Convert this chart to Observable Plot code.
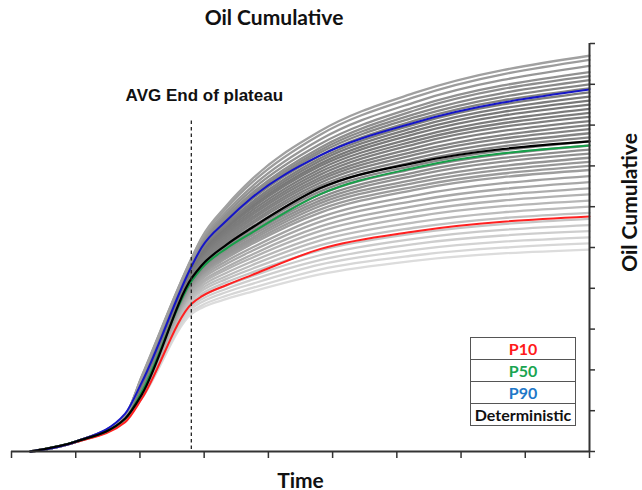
<!DOCTYPE html>
<html><head><meta charset="utf-8">
<script src="https://cdn.jsdelivr.net/npm/d3@7"></script>
<script src="https://cdn.jsdelivr.net/npm/@observablehq/plot@0.6"></script>
<style>
body{margin:0;background:#fff;}
#wrap{position:relative;width:642px;height:490px;font-family:Lato,"Open Sans",sans-serif;color:#111;}
#title{position:relative;height:34px;}
#title span{position:absolute;left:0;width:548px;text-align:center;line-height:34px;font-size:21px;font-weight:bold;}
#legend{position:absolute;left:470px;top:337px;border-collapse:collapse;}
#legend td{border:1.6px solid #555;width:104px;height:21px;padding:0;text-align:center;font-weight:bold;font-size:16px;line-height:21px;}
</style></head><body>
<div id="wrap">
  <div id="title"><span id="titleText"></span></div>
  <div id="chart"></div>
  <table id="legend"></table>
</div>
<script>
const chartTitle = "Oil Cumulative";
const xTitle = "Time";
const yTitle = "Oil Cumulative";
const plateauLabel = "AVG End of plateau";
const plateauTime = 2.8;
const plateauTop = 8.1;
const xTicks = [0,1,2,3,4,5,6,7,8,9];
const yTicks = [0,1,2,3,4,5,6,7,8,9,10];

// time points (x) of every run
const times = [0.3, 1.02, 1.77, 2.03, 2.81, 2.96, 3.35, 3.75, 4.8, 6.3, 9];

// named cases
const p10 = [0, 0.24, 0.72, 1.30, 3.63, 3.80, 4.08, 4.33, 4.96, 5.40, 5.76];
const p50 = [0, 0.25, 0.80, 1.47, 4.19, 4.49, 4.98, 5.37, 6.30, 6.96, 7.50];
const p90 = [0, 0.25, 0.93, 1.70, 4.56, 5.00, 5.66, 6.23, 7.25, 8.07, 8.87];
const deterministic = [0, 0.25, 0.81, 1.40, 4.26, 4.56, 5.07, 5.49, 6.45, 7.08, 7.60];

// grey realisations
const grayRuns = [
  [0, 0.24, 0.76, 1.30, 3.38, 3.52, 3.74, 3.92, 4.34, 4.68, 4.95],
  [0, 0.24, 0.76, 1.31, 3.44, 3.58, 3.82, 4.01, 4.46, 4.81, 5.10],
  [0, 0.24, 0.77, 1.33, 3.51, 3.66, 3.91, 4.11, 4.58, 4.95, 5.25],
  [0, 0.24, 0.77, 1.34, 3.57, 3.73, 3.99, 4.21, 4.69, 5.09, 5.40],
  [0, 0.24, 0.77, 1.36, 3.63, 3.80, 4.07, 4.30, 4.81, 5.22, 5.55],
  [0, 0.24, 0.78, 1.37, 3.68, 3.86, 4.15, 4.39, 4.93, 5.35, 5.70],
  [0, 0.25, 0.78, 1.38, 3.74, 3.93, 4.23, 4.48, 5.05, 5.49, 5.85],
  [0, 0.25, 0.78, 1.40, 3.79, 3.99, 4.30, 4.57, 5.17, 5.62, 6.00],
  [0, 0.25, 0.79, 1.41, 3.84, 4.05, 4.38, 4.66, 5.28, 5.76, 6.15],
  [0, 0.25, 0.79, 1.42, 3.89, 4.11, 4.46, 4.75, 5.40, 5.89, 6.30],
  [0, 0.25, 0.79, 1.44, 3.93, 4.16, 4.52, 4.83, 5.51, 6.02, 6.45],
  [0, 0.25, 0.80, 1.45, 3.98, 4.22, 4.60, 4.92, 5.63, 6.15, 6.60],
  [0, 0.25, 0.80, 1.47, 4.02, 4.27, 4.67, 5.00, 5.74, 6.28, 6.75],
  [0, 0.25, 0.80, 1.48, 4.06, 4.32, 4.74, 5.09, 5.85, 6.42, 6.90],
  [0, 0.25, 0.80, 1.49, 4.09, 4.35, 4.78, 5.14, 5.93, 6.50, 7.00],
  [0, 0.25, 0.81, 1.51, 4.11, 4.38, 4.82, 5.19, 6.01, 6.59, 7.10],
  [0, 0.25, 0.81, 1.52, 4.13, 4.41, 4.86, 5.24, 6.08, 6.67, 7.20],
  [0, 0.25, 0.81, 1.53, 4.16, 4.45, 4.91, 5.30, 6.15, 6.77, 7.30],
  [0, 0.25, 0.82, 1.55, 4.18, 4.47, 4.95, 5.35, 6.22, 6.85, 7.40],
  [0, 0.25, 0.82, 1.56, 4.20, 4.50, 4.99, 5.40, 6.30, 6.94, 7.50],
  [0, 0.25, 0.82, 1.58, 4.23, 4.54, 5.04, 5.46, 6.37, 7.02, 7.60],
  [0, 0.25, 0.83, 1.59, 4.27, 4.58, 5.09, 5.51, 6.44, 7.11, 7.70],
  [0, 0.25, 0.83, 1.60, 4.29, 4.61, 5.14, 5.58, 6.51, 7.19, 7.80],
  [0, 0.25, 0.83, 1.62, 4.32, 4.65, 5.18, 5.63, 6.58, 7.28, 7.90],
  [0, 0.25, 0.84, 1.63, 4.35, 4.69, 5.23, 5.69, 6.65, 7.36, 8.00],
  [0, 0.25, 0.84, 1.64, 4.38, 4.72, 5.28, 5.74, 6.71, 7.45, 8.10],
  [0, 0.25, 0.84, 1.66, 4.41, 4.76, 5.33, 5.80, 6.78, 7.54, 8.20],
  [0, 0.25, 0.85, 1.67, 4.44, 4.79, 5.37, 5.85, 6.85, 7.62, 8.30],
  [0, 0.25, 0.85, 1.69, 4.46, 4.82, 5.42, 5.91, 6.92, 7.70, 8.40],
  [0, 0.25, 0.85, 1.70, 4.49, 4.86, 5.47, 5.97, 6.99, 7.79, 8.50],
  [0, 0.25, 0.86, 1.71, 4.52, 4.90, 5.51, 6.02, 7.05, 7.87, 8.60],
  [0, 0.25, 0.86, 1.73, 4.54, 4.92, 5.55, 6.07, 7.12, 7.95, 8.70],
  [0, 0.25, 0.86, 1.74, 4.57, 4.96, 5.59, 6.12, 7.18, 8.03, 8.80],
  [0, 0.25, 0.87, 1.75, 4.58, 4.98, 5.64, 6.19, 7.25, 8.12, 8.90],
  [0, 0.25, 0.87, 1.77, 4.61, 5.02, 5.69, 6.24, 7.32, 8.20, 9.00],
  [0, 0.25, 0.87, 1.78, 4.63, 5.05, 5.73, 6.29, 7.38, 8.28, 9.10],
  [0, 0.25, 0.88, 1.80, 4.66, 5.08, 5.77, 6.34, 7.44, 8.37, 9.20],
  [0, 0.25, 0.88, 1.81, 4.68, 5.12, 5.83, 6.42, 7.53, 8.45, 9.30],
  [0, 0.25, 0.88, 1.82, 4.71, 5.16, 5.89, 6.50, 7.64, 8.57, 9.45],
  [0, 0.25, 0.89, 1.84, 4.74, 5.21, 5.97, 6.60, 7.76, 8.70, 9.60],
  [0, 0.25, 0.89, 1.85, 4.76, 5.24, 6.03, 6.68, 7.85, 8.80, 9.70]
];

const legendLabels = ["P10", "P50", "P90", "Deterministic"];
const legendColors = ["#ff1a1a", "#1aa551", "#1f78c8", "#111111"];
const lineColors = {p10: "#ff2020", p50: "#17a04a", p90: "#1515c8", det: "#000000"};

const grayRows = grayRuns.flatMap((run, i) =>
  run.map((v, j) => ({run: i, t: times[j], v, final: run[run.length - 1]})));
const toRows = (arr) => arr.map((v, j) => ({t: times[j], v}));

const lineOpts = {x: "t", y: "v", curve: "monotone-x", strokeWidth: 2};

const plot = Plot.plot({
  width: 642,
  height: 456,
  marginTop: 9,
  marginBottom: 39,
  marginLeft: 11,
  marginRight: 53,
  style: {fontFamily: "Lato, 'Open Sans', sans-serif", background: "white"},
  x: {domain: [0, 9]},
  y: {domain: [0, 10]},
  color: {type: "linear", domain: [4.95, 6.0, 7.5, 8.6, 9.7],
          range: ["#dcdcdc", "#bcbcbc", "#8a8a8a", "#787878", "#a0a0a0"]},
  marks: [
    Plot.line(grayRows, {x: "t", y: "v", z: "run", stroke: "final", strokeWidth: 2.3, curve: "monotone-x"}),
    Plot.line(toRows(p10), {...lineOpts, stroke: lineColors.p10}),
    Plot.line(toRows(p50), {...lineOpts, stroke: lineColors.p50}),
    Plot.line(toRows(p90), {...lineOpts, stroke: lineColors.p90}),
    Plot.line(toRows(deterministic), {...lineOpts, stroke: lineColors.det, strokeWidth: 2.2}),
    Plot.ruleX([plateauTime], {y1: plateauTop, y2: 0, stroke: "#222", strokeWidth: 1.3, strokeDasharray: "3.5,3"}),
    Plot.text([{t: plateauTime, label: plateauLabel}], {x: "t", text: "label", frameAnchor: "top", dy: 45, dx: 13,
      fontFamily: "'Liberation Sans', Arial, sans-serif", fontWeight: "bold", fontSize: 17, fill: "#111"}),
    Plot.axisX({ticks: xTicks, tickSize: 7, tickFormat: () => "", label: null, stroke: "#333", strokeWidth: 1.5}),
    Plot.axisY({anchor: "right", ticks: yTicks, tickSize: 5, tickFormat: () => "", label: null, stroke: "#333", strokeWidth: 1.5}),
    Plot.ruleY([0], {stroke: "#333", strokeWidth: 2}),
    Plot.ruleX([9], {stroke: "#333", strokeWidth: 2}),
    Plot.text([xTitle], {frameAnchor: "bottom", dy: 36, fontSize: 21, fontWeight: "bold", fill: "#111"}),
    Plot.text([yTitle], {frameAnchor: "right", textAnchor: "middle", dx: 41, dy: -45, rotate: -90, fontSize: 21, fontWeight: "bold", fill: "#111"})
  ]
});
document.getElementById("chart").appendChild(plot);
document.getElementById("titleText").textContent = chartTitle;

const legend = document.getElementById("legend");
legendLabels.forEach((lab, i) => {
  const tr = document.createElement("tr");
  const td = document.createElement("td");
  td.textContent = lab;
  td.style.color = legendColors[i];
  tr.appendChild(td);
  legend.appendChild(tr);
});
</script>
</body></html>
